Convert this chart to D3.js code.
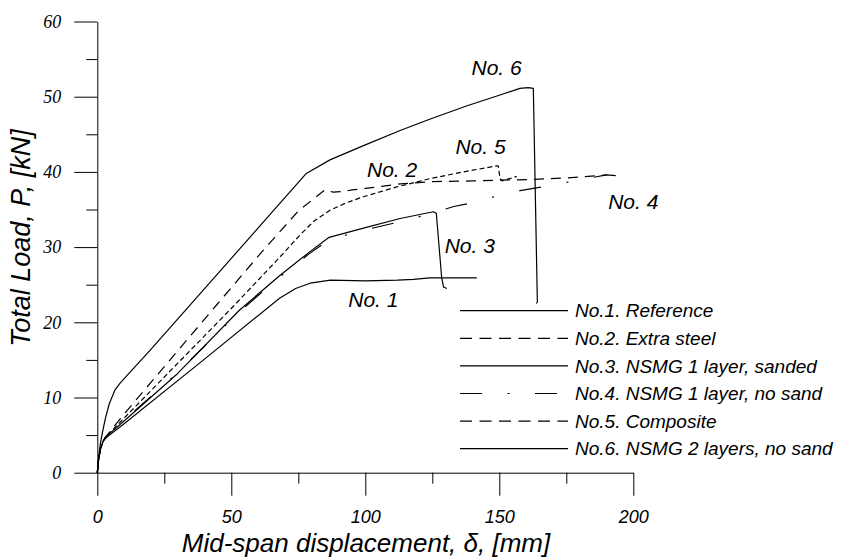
<!DOCTYPE html>
<html>
  <head>
    <meta charset="utf-8">
    <title>Load - displacement</title>
    <script src="https://d3js.org/d3.v7.min.js"></script>
    <style>
      body { margin: 0; background: #fff; }
      text { font-family: "Liberation Sans", Arial, sans-serif; font-style: italic; }
    </style>
  </head>

  <body>
    <svg width="841" height="557"></svg>

    <script type="text/javascript">
      // [mid-span displacement (mm), total load (kN)]
      var no1 = [[0,0],[0.5,1.8],[1.2,3.2],[2.2,4.2],[3.5,4.7],[10,6.5],[40,15.1],[68,23.2],[74,24.5],[79.4,25.2],[87,25.6],[100,25.5],[112,25.6],[118,25.7],[124,25.9],[132,25.9],[141.6,25.9]];
      var no2 = [[0,0],[0.5,1.8],[1.2,3.2],[2.2,4.2],[3,4.7],[10,7.8],[20,12.0],[44.5,22.3],[61,29.2],[75,34.8],[84.9,37.6],[88,37.3],[92,37.4],[95,37.6],[100,37.8],[113,38.4],[124,38.7],[140,38.8],[150,38.9],[162.6,39.0],[175,39.2],[190,39.6]];
      var no3 = [[0,0],[0.5,1.8],[1.2,3.2],[2.2,4.2],[3,4.7],[12,7.5],[30,13.2],[53,21.6],[68,26.2],[79,29.3],[86.5,31.3],[100,32.6],[113,33.8],[124,34.6],[125.4,34.7],[126.5,34.5],[128.5,25.9],[129.2,24.7],[130.4,24.5]];
      var no4 = [[0,0],[0.5,1.8],[1.2,3.2],[2.2,4.2],[3,4.7],[12,7.6],[30,13.3],[53,21.4],[68,26.0],[79,29.1],[86.5,31.0],[100,32.3],[112,33.3],[124,34.4],[133,35.4],[141.6,36.0],[149,36.8],[157.7,37.5],[166,38.0],[178,38.8],[190,39.6],[197,39.4]];
      var no5 = [[0,0],[0.5,1.8],[1.2,3.2],[2.2,4.2],[3,4.7],[20,10.9],[50.7,22.1],[68.2,28.7],[75.6,31.6],[81,33.5],[86.8,34.9],[93,35.9],[99.3,36.7],[111.7,38.0],[124.1,39.1],[136.6,40.0],[149,40.8],[149.6,40.8],[150.3,39.1],[151,38.8],[156.5,39.4]];
      var no6 = [[0,0],[0.5,2],[1.2,4],[2,5.5],[3,7.2],[4.5,9.2],[6.6,11],[8.5,11.9],[20,16.4],[50,28.5],[78,39.8],[86.8,41.6],[100,43.6],[113,45.5],[124,47.0],[138,48.8],[150,50.2],[157.7,51.1],[160.8,51.2],[162.7,51.1],[164.2,22.7],[163.8,22.5]];

      var seriesNames = ["No.1. Reference", "No.2. Extra steel", "No.3. NSMG 1 layer, sanded",
                         "No.4. NSMG 1 layer, no sand", "No.5. Composite", "No.6. NSMG 2 layers, no sand"];
      var curveLabels = ["No. 1", "No. 2", "No. 3", "No. 4", "No. 5", "No. 6"];
      var xMajorTicks = [0, 50, 100, 150, 200];
      var xMinorTicks = [25, 75, 125, 175];
      var yMajorTicks = [0, 10, 20, 30, 40, 50, 60];
      var yMinorTicks = [5, 15, 25, 35, 45, 55];

      var svg = d3.select("svg");

      var xScale = d3.scaleLinear().domain([0, 200]).range([97.3, 633.3]);
      var yScale = d3.scaleLinear().domain([0, 60]).range([472.7, 21.5]);

      var data = [no1, no2, no3, no4, no5, no6];
      var dashes = [null, "10,7", null, "22,26,2,26", "5,3", null];
      var legendDashes = [null, "12,7.5", null, "22,25.5,2,25.5", "12,7.5", null];
      // label centre positions in data units
      var labelPos = [[103, 23.0], [110, 40.3], [139, 30.2], [200, 36.0], [143, 43.3], [149, 53.8]];

      // x axis: major ticks with labels, minor ticks without
      svg.append("g")
        .attr("transform", "translate(0," + yScale(0) + ")")
        .call(d3.axisBottom(xScale).tickValues(xMajorTicks).tickSize(23).tickSizeOuter(0).tickPadding(15))
        .call(function (g) {
          g.selectAll("text").attr("font-size", 18).style("font-family", "'Liberation Sans', Arial, sans-serif").attr("fill", "#000");
          g.selectAll("line, path").attr("stroke", "#000");
        });
      svg.append("g")
        .attr("transform", "translate(0," + yScale(0) + ")")
        .call(d3.axisBottom(xScale).tickValues(xMinorTicks).tickSize(11).tickSizeOuter(0).tickFormat(""))
        .call(function (g) {
          g.select(".domain").remove();
          g.selectAll("line").attr("stroke", "#000");
        });

      // y axis
      svg.append("g")
        .attr("transform", "translate(" + xScale(0) + ",0)")
        .call(d3.axisLeft(yScale).tickValues(yMajorTicks).tickSize(23).tickSizeOuter(0).tickPadding(13))
        .call(function (g) {
          g.selectAll("text").attr("font-size", 18).style("font-family", "'Liberation Serif', 'Times New Roman', serif").attr("fill", "#000");
          g.selectAll("line, path").attr("stroke", "#000");
        });
      svg.append("g")
        .attr("transform", "translate(" + xScale(0) + ",0)")
        .call(d3.axisLeft(yScale).tickValues(yMinorTicks).tickSize(11).tickSizeOuter(0).tickFormat(""))
        .call(function (g) {
          g.select(".domain").remove();
          g.selectAll("line").attr("stroke", "#000");
        });

      // axis titles
      svg.append("text")
        .attr("x", 366)
        .attr("y", 552)
        .attr("text-anchor", "middle")
        .attr("font-size", 26)
        .text("Mid-span displacement, \u03b4, [mm]");

      svg.append("text")
        .attr("transform", "translate(30,238) rotate(-90)")
        .attr("text-anchor", "middle")
        .attr("font-size", 27)
        .text("Total Load, P, [kN]");

      var lineGenerator = d3.line()
        .x(function (d) { return xScale(d[0]); })
        .y(function (d) { return yScale(d[1]); });

      svg.append("g").selectAll("path")
        .data(data)
        .enter()
        .append("path")
        .attr("fill", "none")
        .attr("stroke", "#000")
        .attr("stroke-width", 1.2)
        .attr("stroke-linejoin", "round")
        .attr("stroke-dasharray", function (d, i) { return dashes[i]; })
        .attr("d", lineGenerator);

      // curve labels
      svg.append("g").selectAll("text")
        .data(curveLabels)
        .enter()
        .append("text")
        .attr("x", function (d, i) { return xScale(labelPos[i][0]); })
        .attr("y", function (d, i) { return yScale(labelPos[i][1]); })
        .attr("dy", "0.35em")
        .attr("text-anchor", "middle")
        .attr("font-size", 21)
        .text(function (d) { return d; });

      // legend
      var legend = svg.append("g").selectAll("g")
        .data(seriesNames)
        .enter()
        .append("g")
        .attr("transform", function (d, i) { return "translate(0," + (310.7 + i * 27.6) + ")"; });

      legend.append("line")
        .attr("x1", 460)
        .attr("x2", 568)
        .attr("stroke", "#000")
        .attr("stroke-width", 1.2)
        .attr("stroke-dasharray", function (d, i) { return legendDashes[i]; });

      legend.append("text")
        .attr("x", 575)
        .attr("dy", "0.35em")
        .attr("font-size", 19)
        .text(function (d) { return d; });
    </script>
  </body>
</html>
